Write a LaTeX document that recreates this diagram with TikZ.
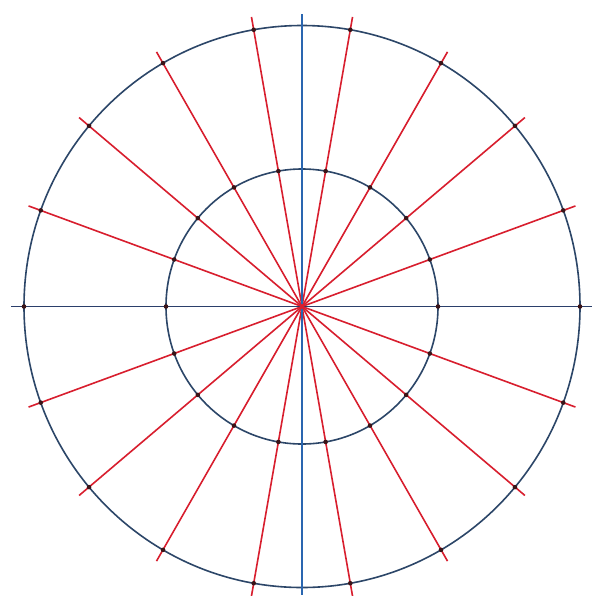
\documentclass[tikz,border=0pt]{standalone}
\usetikzlibrary{calc}
\begin{document}
\begin{tikzpicture}[x=1pt,y=-1pt,
  circline/.style={draw=circblue, line width=1.6pt},
  axisH/.style={draw=axisnavy, line width=1.6pt},
  axisV/.style={draw=axisblue, line width=1.3pt},
  ray/.style={draw=rayred, line width=1.6pt},
  dot/.style={fill=dotcol}]
\definecolor{circblue}{HTML}{2C4668}
\definecolor{axisnavy}{HTML}{2B3F6B}
\definecolor{axisblue}{HTML}{2A66B0}
\definecolor{rayred}{HTML}{D81E2E}
\definecolor{dotcol}{HTML}{3A1418}
\useasboundingbox (0,0) rectangle (596,595);
\fill[white] (0,0) rectangle (596,595);
\coordinate (O) at (302,306.5);
% circles
\draw[circline] (O) ellipse [x radius=278, y radius=281];
\draw[circline] (O) ellipse [x radius=136, y radius=137.5];
% red rays
\foreach \a in {20,40,60,80,100,120,140,160,200,220,240,260,280,300,320,340}{
  \coordinate (e\a) at ($(O)+({291*cos(\a)},{294*sin(\a)})$);
  \draw[ray] (O) -- (e\a);
}
% axes
\coordinate (hl) at (11,306.5);
\coordinate (hr) at (592,306.5);
\coordinate (vt) at (302,14);
\coordinate (vb) at (302,595);
\draw[axisH] (hl) -- (hr);
\draw[axisV] (vt) -- (vb);
% dots
\foreach \a in {0,20,...,340}{
  \fill[dot] ($(O)+({278*cos(\a)},{281*sin(\a)})$) circle [radius=2.3];
  \fill[dot] ($(O)+({136*cos(\a)},{137.5*sin(\a)})$) circle [radius=2.3];
}
\fill[rayred] (O) circle [radius=2.5];
\end{tikzpicture}
\end{document}
